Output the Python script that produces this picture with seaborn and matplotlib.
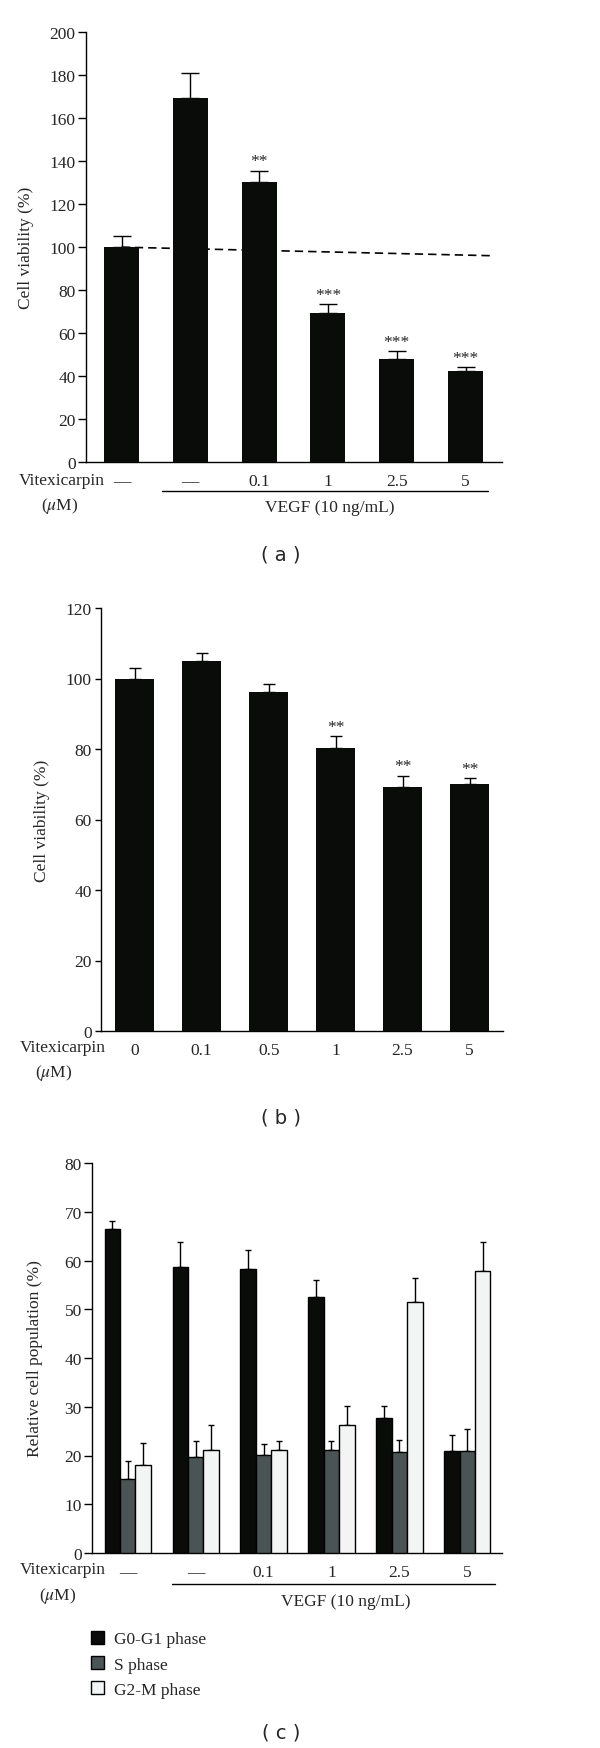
import numpy as np
import pandas as pd
import matplotlib
matplotlib.use("Agg")
import matplotlib.pyplot as plt
import seaborn as sns
from matplotlib.patches import Patch

# (a) viability with VEGF stimulation
groups_a = ["Control", "VEGF", "VEGF+0.1", "VEGF+1", "VEGF+2.5", "VEGF+5"]
ticks_a = ["—", "—", "0.1", "1", "2.5", "5"]
viability_a = [100, 169.4, 130.4, 69.5, 48.0, 42.2]
sem_a = [5.3, 11.6, 5.1, 4.0, 3.5, 1.8]
stars_a = ["", "", "**", "***", "***", "***"]
dashed_a = [100, 96]  # dashed reference line, start/end value

# (b) viability without VEGF
doses_b = ["0", "0.1", "0.5", "1", "2.5", "5"]
viability_b = [100, 105.1, 96.1, 80.4, 69.2, 70.0]
sem_b = [3.0, 2.0, 2.2, 3.3, 3.2, 1.7]
stars_b = ["", "", "", "**", "**", "**"]

# (c) cell cycle distribution
groups_c = groups_a
ticks_c = ticks_a
phases = ["G0-G1 phase", "S phase", "G2-M phase"]
g0g1 = [66.5, 58.7, 58.3, 52.5, 27.6, 20.9]
g0g1_sem = [1.6, 5.0, 3.9, 3.4, 2.6, 3.4]
s_phase = [15.2, 19.7, 20.1, 21.2, 20.8, 21.0]
s_sem = [3.6, 3.3, 2.3, 1.7, 2.4, 4.5]
g2m = [18.1, 21.2, 21.2, 26.2, 51.4, 57.9]
g2m_sem = [4.4, 5.1, 1.7, 4.0, 5.1, 5.8]
phase_colors = ["#0a0c0a", "#4a5555", "#f2f6f6"]

FS = 12.5
sns.set_style("ticks")
plt.rcParams["font.family"] = ["Liberation Serif", "DejaVu Serif"]
plt.rcParams["mathtext.fontset"] = "stix"
plt.rcParams["font.size"] = FS

W, H = 600, 1749
fig = plt.figure(figsize=(W / 100, H / 100), dpi=100)


def box(left, top, right, bottom):  # pixel box -> figure fraction
    return [left / W, 1 - bottom / H, (right - left) / W, (bottom - top) / H]


def fx(x):
    return x / W


def fy(y):
    return 1 - y / H


def style_axis(ax, ymax, step, ticklen):
    sns.despine(ax=ax)
    for s in ["left", "bottom"]:
        ax.spines[s].set_linewidth(1.0)
        ax.spines[s].set_color("black")
    ax.set_ylim(0, ymax)
    ax.set_yticks(np.arange(0, ymax + 1, step))
    ax.tick_params(axis="y", length=ticklen, width=1.0, labelsize=FS, pad=2, color="black")
    ax.tick_params(axis="x", length=0, labelsize=FS, pad=8)
    ax.set_xlabel("")


def add_stars(ax, xs, tops, stars):
    for x, t, s in zip(xs, tops, stars):
        if s:
            ax.annotate(s, (x, t), xytext=(0, 1), textcoords="offset points",
                        ha="center", va="bottom", fontsize=FS)


# ---------- panel (a)
ax_a = fig.add_axes(box(86, 33.3, 502, 463))
sns.barplot(x=groups_a, y=viability_a, order=groups_a, color="#0a0c0a", width=0.51,
            errorbar=None, linewidth=0, ax=ax_a, zorder=3)
xs_a = [p.get_x() + p.get_width() / 2 for p in ax_a.containers[0]]
ax_a.errorbar(xs_a, viability_a, yerr=[np.zeros(6), sem_a], fmt="none", ecolor="black",
              elinewidth=1, capsize=6.4, capthick=1, zorder=2)
ax_a.plot([xs_a[0], xs_a[-1] + 0.4], dashed_a, color="black", lw=1.2,
          linestyle=(0, (5, 3)), zorder=1)
add_stars(ax_a, xs_a, np.add(viability_a, sem_a), stars_a)
style_axis(ax_a, 200, 20, 5.5)
ax_a.set_xlim(-0.516, 5.53)
ax_a.set_xticks(range(6))
ax_a.set_xticklabels(ticks_a)
ax_a.set_ylabel("Cell viability (%)", fontsize=FS)
ax_a.yaxis.set_label_coords(-0.124, 0.5)

fig.text(fx(19), fy(481), "Vitexicarpin", ha="left", va="center", fontsize=FS)
fig.text(fx(60), fy(506), r"($\mu$M)", ha="center", va="center", fontsize=FS)
fig.add_artist(plt.Line2D([fx(162), fx(488)], [fy(492.3), fy(492.3)], color="black", lw=1))
fig.text(fx(330), fy(508), "VEGF (10 ng/mL)", ha="center", va="center", fontsize=FS)
fig.text(fx(281), fy(555), "( a )", ha="center", va="center", fontsize=14, family="DejaVu Sans")

# ---------- panel (b)
ax_b = fig.add_axes(box(100.7, 609, 503, 1032))
sns.barplot(x=doses_b, y=viability_b, order=doses_b, color="#0a0c0a", width=0.575,
            errorbar=None, linewidth=0, ax=ax_b, zorder=3)
xs_b = [p.get_x() + p.get_width() / 2 for p in ax_b.containers[0]]
ax_b.errorbar(xs_b, viability_b, yerr=[np.zeros(6), sem_b], fmt="none", ecolor="black",
              elinewidth=1, capsize=4.3, capthick=1, zorder=2)
add_stars(ax_b, xs_b, np.add(viability_b, sem_b), stars_b)
style_axis(ax_b, 120, 20, 4.5)
ax_b.set_xlim(-0.508, 5.5)
ax_b.set_ylabel("Cell viability (%)", fontsize=FS)
ax_b.yaxis.set_label_coords(-0.126, 0.5)

fig.text(fx(20), fy(1048), "Vitexicarpin", ha="left", va="center", fontsize=FS)
fig.text(fx(54), fy(1073), r"($\mu$M)", ha="center", va="center", fontsize=FS)
fig.text(fx(281), fy(1118), "( b )", ha="center", va="center", fontsize=14, family="DejaVu Sans")

# ---------- panel (c)
ax_c = fig.add_axes(box(92.3, 1164, 502, 1554))
df_c = pd.DataFrame({
    "group": groups_c * 3,
    "phase": [phases[0]] * 6 + [phases[1]] * 6 + [phases[2]] * 6,
    "value": g0g1 + s_phase + g2m,
})
sns.barplot(data=df_c, x="group", y="value", hue="phase", order=groups_c, hue_order=phases,
            palette=dict(zip(phases, phase_colors)), width=0.68, errorbar=None,
            edgecolor="black", linewidth=1.0, ax=ax_c, zorder=3)
for cont, vals, errs in zip(ax_c.containers, [g0g1, s_phase, g2m], [g0g1_sem, s_sem, g2m_sem]):
    xs = [p.get_x() + p.get_width() / 2 for p in cont]
    ax_c.errorbar(xs, vals, yerr=[np.zeros(6), errs], fmt="none", ecolor="black",
                  elinewidth=1, capsize=2.4, capthick=1, zorder=2)
ax_c.get_legend().remove()
style_axis(ax_c, 80, 10, 5.5)
ax_c.set_xlim(-0.521, 5.51)
ax_c.set_xticks(range(6))
ax_c.set_xticklabels(ticks_c)
ax_c.set_ylabel("Relative cell population (%)", fontsize=FS)
ax_c.yaxis.set_label_coords(-0.12, 0.5)

fig.text(fx(20), fy(1570), "Vitexicarpin", ha="left", va="center", fontsize=FS)
fig.text(fx(57.5), fy(1596), r"($\mu$M)", ha="center", va="center", fontsize=FS)
fig.add_artist(plt.Line2D([fx(172), fx(495)], [fy(1585), fy(1585)], color="black", lw=1))
fig.text(fx(345.8), fy(1602), "VEGF (10 ng/mL)", ha="center", va="center", fontsize=FS)

handles = [Patch(facecolor=c, edgecolor="black", linewidth=1) for c in phase_colors]
fig.legend(handles, phases, loc="upper left", bbox_to_anchor=(fx(91), fy(1632)),
           frameon=False, fontsize=FS, handlelength=0.75, handleheight=0.75,
           handletextpad=0.6, labelspacing=0.5, borderpad=0, borderaxespad=0)
fig.text(fx(281), fy(1733), "( c )", ha="center", va="center", fontsize=14, family="DejaVu Sans")

fig.savefig("out.png", dpi=100)
